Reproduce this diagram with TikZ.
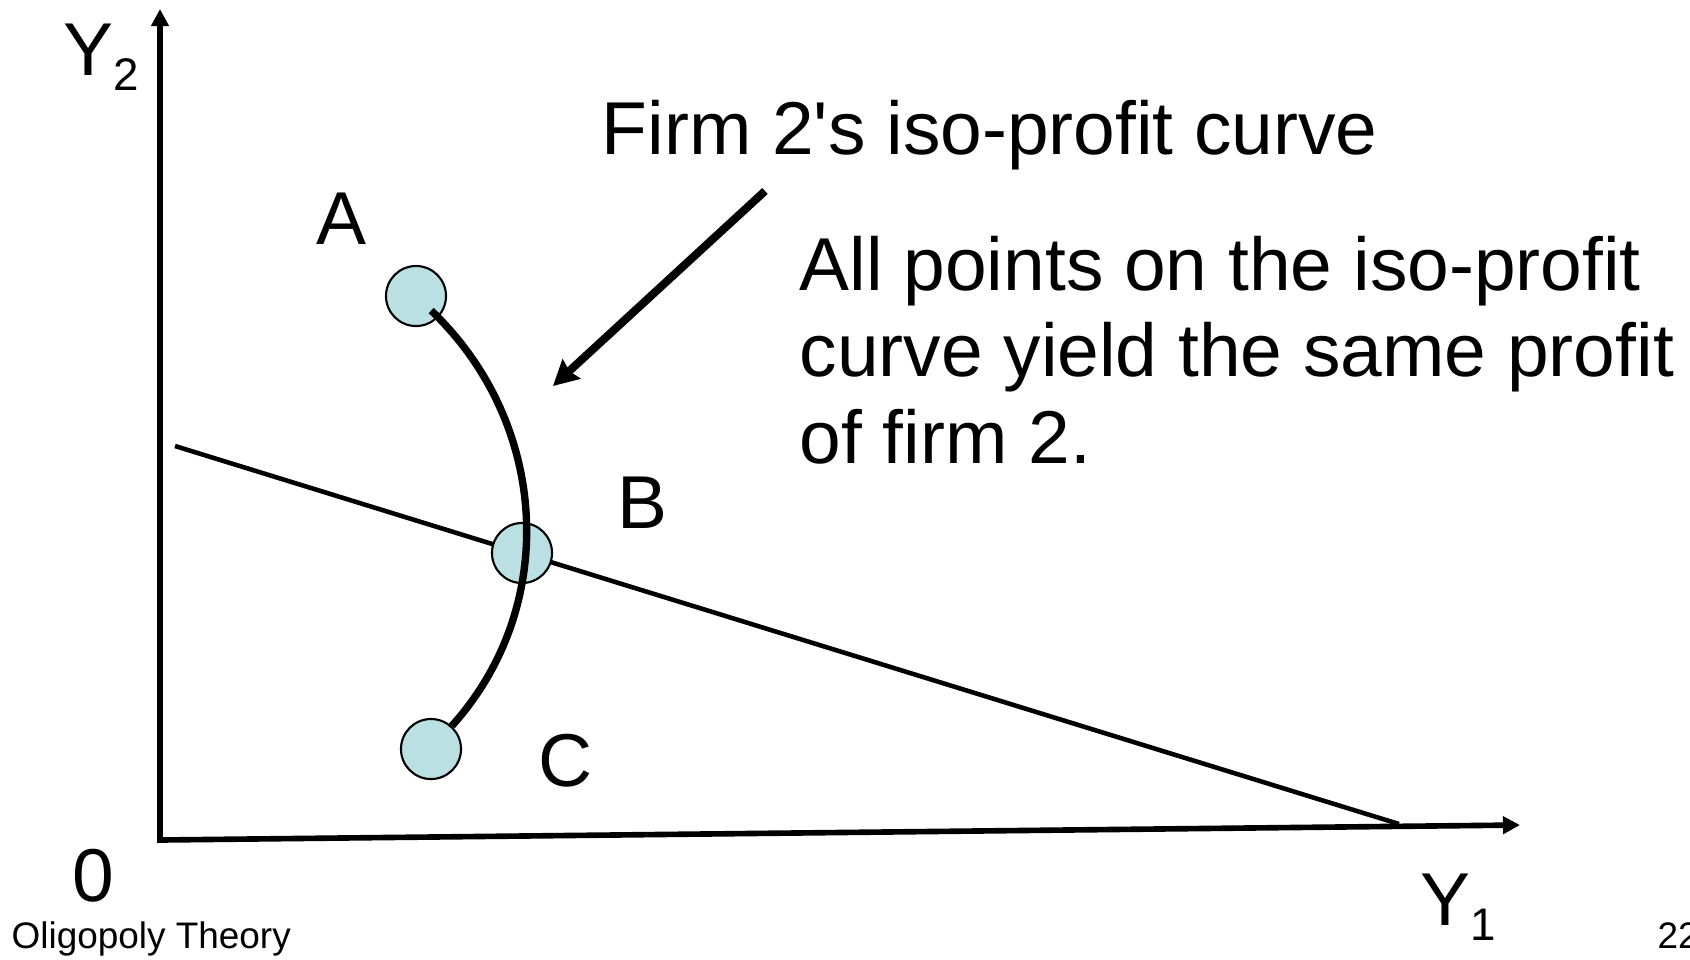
\documentclass[tikz,border=0pt]{standalone}
\usepackage{fontspec}
\setmainfont{Liberation Sans}
\usetikzlibrary{arrows.meta, positioning}
\definecolor{dotfill}{RGB}{187,224,227}
\newcommand\lowsub[1]{{\fontsize{13}{13}\selectfont\raisebox{-4.5pt}{#1}}}

\begin{document}
\begin{tikzpicture}[
    x=0.01cm, y=-0.01cm,
    axis/.style={line width=1.6pt, {Triangle[length=0.17cm, width=0.17cm]}-{Triangle[length=0.17cm, width=0.17cm]}},
    reaction/.style={line width=1.3pt},
    isocurve/.style={line width=2.1pt},
    pointer/.style={line width=2.3pt, -{Stealth[length=0.25cm, width=0.26cm, inset=0.03cm]}},
    dot/.style={circle, draw, line width=0.6pt, fill=dotfill, minimum size=0.6cm, inner sep=0pt},
    txt/.style={inner sep=0pt, anchor=base west, font=\fontsize{21.3}{24.5}\selectfont},
    footer/.style={inner sep=0pt, anchor=base west, font=\fontsize{10.5}{12}\selectfont},
]
\useasboundingbox (0,0) rectangle (1690,959);

% Axes
\coordinate (origin) at (160,840);
\coordinate (ytop) at (160,9);
\coordinate (xend) at (1520,825);
\draw[axis] (ytop) -- (origin) -- (xend);

% Line through B
\coordinate (lineL) at (175,446);
\coordinate (lineR) at (1399,824);
\draw[reaction] (lineL) -- (lineR);

% Points
\node[dot] (ptA) at (416,296) {};
\node[dot] (ptB) at (522,553) {};
\node[dot] (ptC) at (431,749) {};

% Iso-profit curve
\draw[isocurve, shorten <=0.21cm] (ptA.center) .. controls (549,423) and (560,606) .. (ptC);

% Pointer
\coordinate (arrTail) at (765,191);
\coordinate (arrTip) at (553,386);
\draw[pointer] (arrTail) -- (arrTip);

% Labels
\node[txt] (lblY2) at (63,75) {Y\lowsub{2}};
\node[txt] (lblY1) at (1420,925) {Y\lowsub{1}};
\node[txt] (lblO) at (72,901) {0};
\node[txt] (lblA) at (316,244) {A};
\node[txt] (lblB) at (617,528) {B};
\node[txt] (lblC) at (538,786) {C};
\node[txt] (title) at (601,154) {Firm 2\textquotesingle s iso-profit curve};
\node[txt, align=left] (note) at (799,463) {All points on the iso-profit\\curve yield the same profit\\of firm 2.};

% Footer
\node[footer] (foot) at (11,948) {Oligopoly Theory};
\node[footer] (page) at (1657,948) {22};

\end{tikzpicture}
\end{document}
